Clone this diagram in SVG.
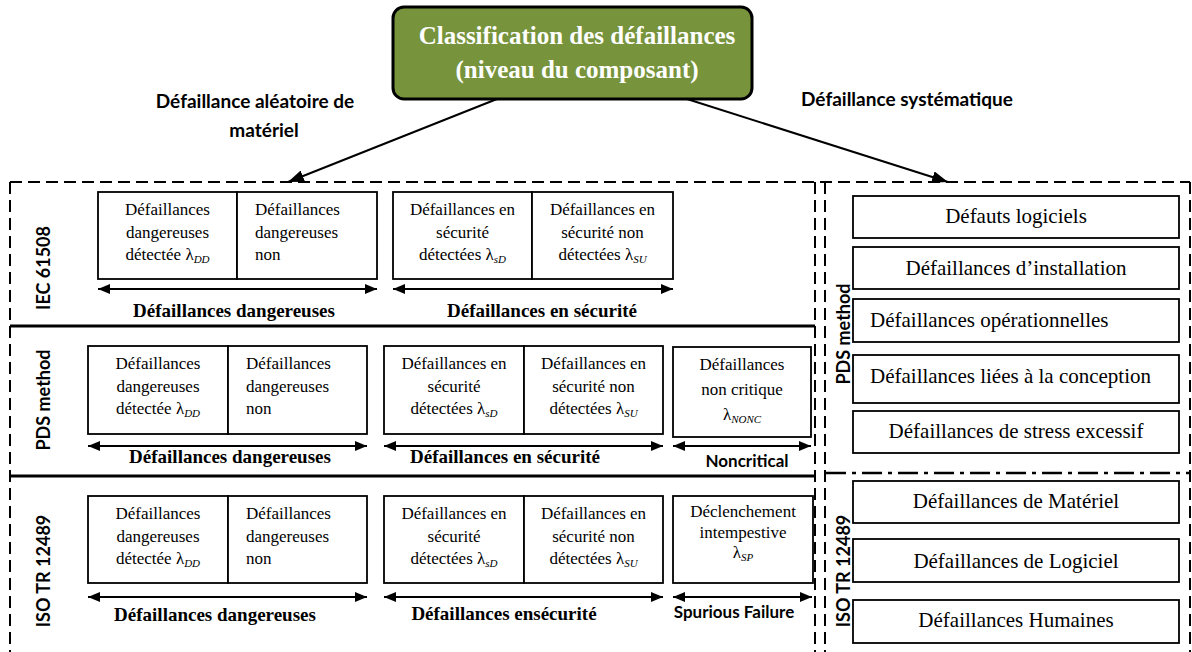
<svg xmlns="http://www.w3.org/2000/svg" width="1192" height="652" viewBox="0 0 1192 652">
<defs>
<marker id="ah" viewBox="0 0 12 10" refX="12" refY="5" markerWidth="12" markerHeight="10" markerUnits="userSpaceOnUse" orient="auto-start-reverse"><path d="M0,0 L12,5 L0,10 z" fill="#000"/></marker>
<marker id="ahBig" viewBox="0 0 16 12" refX="16" refY="6" markerWidth="16" markerHeight="12" markerUnits="userSpaceOnUse" orient="auto"><path d="M0,0 L16,6 L0,12 z" fill="#000"/></marker>
</defs>
<style>
.cell{fill:#fff;stroke:#000;stroke-width:1.8}
.t{font-family:"Liberation Serif","Times New Roman",serif;font-size:17px;fill:#000}
.big{font-family:"Liberation Serif","Times New Roman",serif;font-size:21px;fill:#000}
.c{text-anchor:middle}
.sub{font-style:italic;font-size:11px}
.lbl{font-family:"Liberation Serif","Times New Roman",serif;font-weight:bold;font-size:19px;text-anchor:middle;fill:#000}
.sans{font-family:Lato,"Liberation Sans",sans-serif;font-weight:bold;fill:#000}
.dash{fill:none;stroke:#000;stroke-width:2;stroke-dasharray:12 6}
.sep{fill:none;stroke:#000;stroke-width:3}
.span{stroke:#000;stroke-width:2;fill:none;marker-start:url(#ah);marker-end:url(#ah)}
.conn{stroke:#000;stroke-width:2;fill:none;marker-end:url(#ahBig)}
</style>
<rect width="1192" height="652" fill="#fff"/>

<g id="frames">
<path class="dash" d="M10,182 H1190 M10,182 V652 M815,182 V652 M825,182 V652 M1190,182 V652"/>
<path class="sep" d="M10,326 H815 M10,476 H815"/>
<path d="M826,473 H1190" fill="none" stroke="#000" stroke-width="2.5" stroke-dasharray="20 6 4 6"/>
</g>

<g id="title">
<rect x="393" y="7" width="359" height="92" rx="11" fill="#77933C" stroke="#000" stroke-width="3"/>
<text x="577" y="44" font-family="Liberation Serif,Times New Roman,serif" font-weight="bold" font-size="25" fill="#fff" text-anchor="middle">Classification des défaillances</text>
<text x="577" y="78" font-family="Liberation Serif,Times New Roman,serif" font-weight="bold" font-size="25" fill="#fff" text-anchor="middle">(niveau du composant)</text>
</g>

<g id="connectors">
<line class="conn" x1="497" y1="99" x2="288" y2="182"/>
<line class="conn" x1="687" y1="99" x2="948" y2="182"/>
</g>

<g id="header-labels">
<text class="sans" font-size="19" x="255" y="108" text-anchor="middle">Défaillance aléatoire de</text>
<text class="sans" font-size="19" x="264" y="137" text-anchor="middle">matériel</text>
<text class="sans" font-size="19" x="907" y="106" text-anchor="middle">Défaillance systématique</text>
</g>

<g id="row-labels">
<text class="sans" font-size="18" text-anchor="middle" transform="translate(50,268) rotate(-90)">IEC 61508</text>
<text class="sans" font-size="18" text-anchor="middle" transform="translate(50,400) rotate(-90)">PDS method</text>
<text class="sans" font-size="18" text-anchor="middle" transform="translate(50,571) rotate(-90)">ISO TR 12489</text>
<text class="sans" font-size="18" text-anchor="middle" transform="translate(850,334) rotate(-90)">PDS method</text>
<text class="sans" font-size="18" text-anchor="middle" transform="translate(850,571) rotate(-90)">ISO TR 12489</text>
</g>

<!-- IEC 61508 row -->
<g id="iec-dd">
<rect class="cell" x="98" y="192" width="139" height="87"/>
<text class="t c" x="167.5" y="215">Défaillances</text>
<text class="t c" x="167.5" y="238">dangereuses</text>
<text class="t c" x="167.5" y="260">détectée λ<tspan class="sub" dy="3">DD</tspan></text>
</g>
<g id="iec-du">
<rect class="cell" x="237" y="192" width="140" height="87"/>
<text class="t" x="255" y="215">Défaillances</text>
<text class="t" x="255" y="238">dangereuses</text>
<text class="t" x="255" y="260">non</text>
</g>
<g id="iec-sd">
<rect class="cell" x="393" y="192" width="139" height="87"/>
<text class="t c" x="462.5" y="215">Défaillances en</text>
<text class="t c" x="462.5" y="238">sécurité</text>
<text class="t c" x="462.5" y="260">détectées λ<tspan class="sub" dy="3">sD</tspan></text>
</g>
<g id="iec-su">
<rect class="cell" x="532" y="192" width="141" height="87"/>
<text class="t c" x="602.5" y="215">Défaillances en</text>
<text class="t c" x="602.5" y="238">sécurité non</text>
<text class="t c" x="602.5" y="260">détectées λ<tspan class="sub" dy="3">SU</tspan></text>
</g>
<g id="iec-spans">
<line class="span" x1="98" y1="289" x2="377" y2="289"/>
<line class="span" x1="393" y1="289" x2="673" y2="289"/>
<text class="lbl" x="234" y="317">Défaillances dangereuses</text>
<text class="lbl" x="542" y="317">Défaillances en sécurité</text>
</g>

<!-- PDS method row -->
<g id="pds-dd">
<rect class="cell" x="88" y="346" width="140" height="88"/>
<text class="t c" x="158" y="369">Défaillances</text>
<text class="t c" x="158" y="392">dangereuses</text>
<text class="t c" x="158" y="414">détectée λ<tspan class="sub" dy="3">DD</tspan></text>
</g>
<g id="pds-du">
<rect class="cell" x="228" y="346" width="139" height="88"/>
<text class="t" x="246" y="369">Défaillances</text>
<text class="t" x="246" y="392">dangereuses</text>
<text class="t" x="246" y="414">non</text>
</g>
<g id="pds-sd">
<rect class="cell" x="384" y="346" width="140" height="88"/>
<text class="t c" x="454" y="369">Défaillances en</text>
<text class="t c" x="454" y="392">sécurité</text>
<text class="t c" x="454" y="414">détectées λ<tspan class="sub" dy="3">sD</tspan></text>
</g>
<g id="pds-su">
<rect class="cell" x="524" y="346" width="139" height="88"/>
<text class="t c" x="593.5" y="369">Défaillances en</text>
<text class="t c" x="593.5" y="392">sécurité non</text>
<text class="t c" x="593.5" y="414">détectées λ<tspan class="sub" dy="3">SU</tspan></text>
</g>
<g id="pds-nonc">
<rect class="cell" x="673" y="347" width="138" height="90"/>
<text class="t c" x="742" y="370" font-size="18">Défaillances</text>
<text class="t c" x="742" y="395" font-size="18">non critique</text>
<text class="t c" x="742" y="420" font-size="18">λ<tspan class="sub" dy="3">NONC</tspan></text>
</g>
<g id="pds-spans">
<line class="span" x1="88" y1="446" x2="367" y2="446"/>
<line class="span" x1="384" y1="446" x2="663" y2="446"/>
<line class="span" x1="673" y1="446" x2="811" y2="446"/>
<text class="lbl" x="230" y="463">Défaillances dangereuses</text>
<text class="lbl" x="505" y="463">Défaillances en sécurité</text>
<text class="sans" font-size="17" x="747" y="467" text-anchor="middle">Noncritical</text>
</g>

<!-- ISO TR 12489 row -->
<g id="iso-dd">
<rect class="cell" x="88" y="496" width="140" height="87"/>
<text class="t c" x="158" y="519">Défaillances</text>
<text class="t c" x="158" y="542">dangereuses</text>
<text class="t c" x="158" y="564">détectée λ<tspan class="sub" dy="3">DD</tspan></text>
</g>
<g id="iso-du">
<rect class="cell" x="228" y="496" width="139" height="87"/>
<text class="t" x="246" y="519">Défaillances</text>
<text class="t" x="246" y="542">dangereuses</text>
<text class="t" x="246" y="564">non</text>
</g>
<g id="iso-sd">
<rect class="cell" x="384" y="496" width="140" height="87"/>
<text class="t c" x="454" y="519">Défaillances en</text>
<text class="t c" x="454" y="542">sécurité</text>
<text class="t c" x="454" y="564">détectées λ<tspan class="sub" dy="3">sD</tspan></text>
</g>
<g id="iso-su">
<rect class="cell" x="524" y="496" width="139" height="87"/>
<text class="t c" x="593.5" y="519">Défaillances en</text>
<text class="t c" x="593.5" y="542">sécurité non</text>
<text class="t c" x="593.5" y="564">détectées λ<tspan class="sub" dy="3">SU</tspan></text>
</g>
<g id="iso-sp">
<rect class="cell" x="673" y="496" width="140" height="87"/>
<text class="t c" x="743" y="517">Déclenchement</text>
<text class="t c" x="743" y="538">intempestive</text>
<text class="t c" x="743" y="558">λ<tspan class="sub" dy="3">SP</tspan></text>
</g>
<g id="iso-spans">
<line class="span" x1="88" y1="597" x2="367" y2="597"/>
<line class="span" x1="384" y1="597" x2="663" y2="597"/>
<line class="span" x1="673" y1="597" x2="812" y2="597"/>
<text class="lbl" x="215" y="621">Défaillances dangereuses</text>
<text class="lbl" x="504" y="620">Défaillances ensécurité</text>
<text class="sans" font-size="17" x="734" y="618" text-anchor="middle">Spurious Failure</text>
</g>

<!-- Systematic failures: PDS method -->
<g id="sys-logiciels">
<rect class="cell" x="853" y="196" width="326" height="42"/>
<text class="big c" x="1016" y="223">Défauts logiciels</text>
</g>
<g id="sys-installation">
<rect class="cell" x="853" y="247" width="326" height="42"/>
<text class="big c" x="1016" y="275">Défaillances d’installation</text>
</g>
<g id="sys-operationnelles">
<rect class="cell" x="853" y="299" width="326" height="43"/>
<text class="big" x="870" y="327">Défaillances opérationnelles</text>
</g>
<g id="sys-conception">
<rect class="cell" x="853" y="355" width="326" height="48"/>
<text class="big" x="870" y="383">Défaillances liées à la conception</text>
</g>
<g id="sys-stress">
<rect class="cell" x="853" y="411" width="326" height="42"/>
<text class="big c" x="1016" y="438">Défaillances de stress excessif</text>
</g>

<!-- Systematic failures: ISO TR 12489 -->
<g id="sys-materiel">
<rect class="cell" x="853" y="481" width="326" height="42"/>
<text class="big c" x="1016" y="508">Défaillances de Matériel</text>
</g>
<g id="sys-logiciel">
<rect class="cell" x="853" y="539" width="326" height="43"/>
<text class="big c" x="1016" y="568">Défaillances de Logiciel</text>
</g>
<g id="sys-humaines">
<rect class="cell" x="853" y="600" width="326" height="43"/>
<text class="big c" x="1016" y="627">Défaillances Humaines</text>
</g>
</svg>
